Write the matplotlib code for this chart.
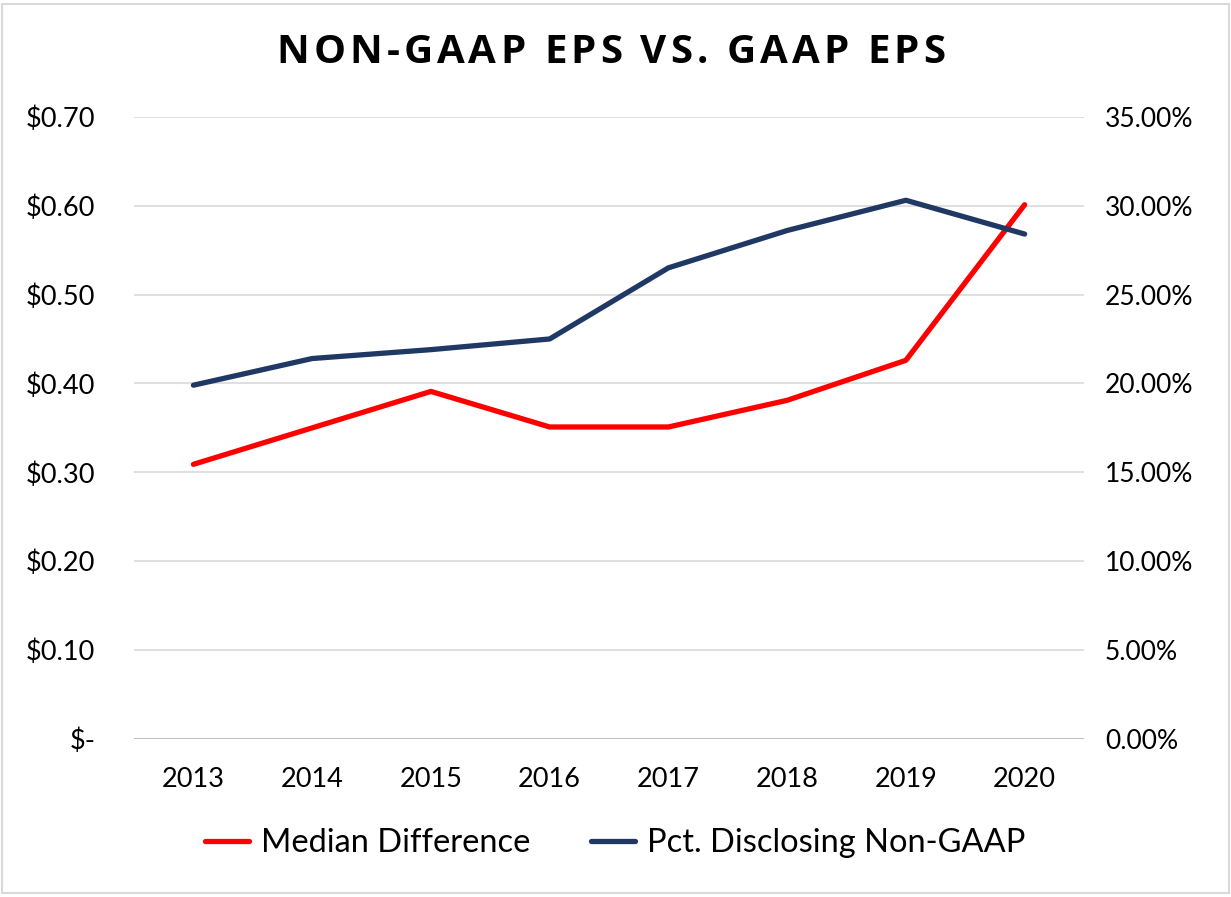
import matplotlib
matplotlib.use("Agg")
import matplotlib.pyplot as plt
from matplotlib.patches import Rectangle
from matplotlib.ticker import FuncFormatter

years = ["2013", "2014", "2015", "2016", "2017", "2018", "2019", "2020"]
median_diff = [0.309, 0.350, 0.391, 0.351, 0.351, 0.381, 0.426, 0.601]
pct_disclosing = [19.9, 21.4, 21.9, 22.5, 26.5, 28.6, 30.3, 28.4]

left_ticks = [0.0, 0.1, 0.2, 0.3, 0.4, 0.5, 0.6, 0.7]
right_ticks = [0, 5, 10, 15, 20, 25, 30, 35]

title = "NON-GAAP EPS VS. GAAP EPS"

plt.rcParams['font.family'] = ['Lato', 'DejaVu Sans']

fig = plt.figure(figsize=(12.31, 8.97), dpi=100)
ax = fig.add_axes([0.1089, 0.1761, 0.7717, 0.6938])
ax2 = ax.twinx()

x = list(range(len(years)))
red = "#ff0000"
blue = "#203864"

l1, = ax.plot(x, median_diff, color=red, lw=3.8, solid_capstyle='round', solid_joinstyle='round', label="Median Difference", zorder=3)
l2, = ax2.plot(x, pct_disclosing, color=blue, lw=3.8, solid_capstyle='round', solid_joinstyle='round', label="Pct. Disclosing Non-GAAP", zorder=3)

ax.set_xlim(-0.5, len(years) - 0.5)
ax.set_ylim(0, 0.7)
ax2.set_ylim(0, 35)
ax.set_yticks(left_ticks)
ax2.set_yticks(right_ticks)
ax.yaxis.set_major_formatter(FuncFormatter(lambda v, p: "$-" if abs(v) < 1e-9 else f"${v:.2f}"))
ax2.yaxis.set_major_formatter(FuncFormatter(lambda v, p: f"{v:.2f}%"))
ax.set_xticks(x)
ax.set_xticklabels(years)

for a in (ax, ax2):
    for s in a.spines.values():
        s.set_visible(False)
    a.tick_params(length=0, labelsize=19.5, colors="black")
ax2.tick_params(axis='y', labelsize=19)
ax.tick_params(axis='y', pad=28)
ax2.tick_params(axis='y', pad=15)
ax.tick_params(axis='x', pad=20)

for t in left_ticks[1:]:
    ax.axhline(t, color="#d9d9d9", lw=1.2, zorder=1)
ax.axhline(0, color="#bfbfbf", lw=2.2, zorder=2)

# Title with letter spacing (drawn per character)
renderer = fig.canvas.get_renderer()
tkw = dict(fontsize=29, fontweight='bold', family=['Open Sans', 'DejaVu Sans'], va='center', ha='left')
tracking = 4.0  # px between characters
widths = []
for ch in title:
    if ch == " ":
        tt = fig.text(0, 0, "a a", **tkw)
        w_full = tt.get_window_extent(renderer).width
        tt.remove()
        tt = fig.text(0, 0, "aa", **tkw)
        w_no = tt.get_window_extent(renderer).width
        tt.remove()
        widths.append(w_full - w_no)
    else:
        tt = fig.text(0, 0, ch, **tkw)
        widths.append(tt.get_window_extent(renderer).width)
        tt.remove()
total = sum(widths) + tracking * (len(title) - 1)
W = fig.get_figwidth() * fig.dpi
xpos = 611 - total / 2
for ch, w in zip(title, widths):
    if ch != " ":
        fig.text(xpos / W, 0.942, ch, **tkw)
    xpos += w + tracking

fig.legend([l1, l2], ["Median Difference", "Pct. Disclosing Non-GAAP"],
           loc='center', bbox_to_anchor=(0.5, 0.06), ncol=2, frameon=False,
           fontsize=23.5, handlelength=1.35, handletextpad=0.37, columnspacing=1.85)

fig.patches.append(Rectangle((0.002, 0.004), 0.996, 0.992, transform=fig.transFigure,
                             fill=False, edgecolor="#d9d9d9", lw=1.5))

fig.savefig("out.png", dpi=100)
